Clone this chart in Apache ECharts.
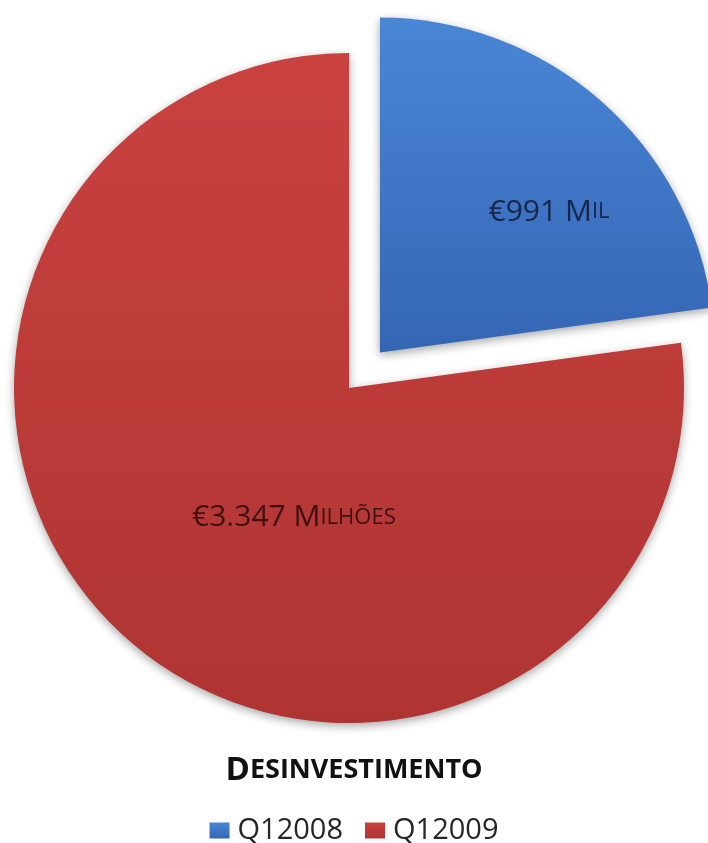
<!DOCTYPE html>
<html>
<head>
<meta charset="utf-8">
<script src="https://cdn.jsdelivr.net/npm/echarts@6/dist/echarts.min.js"></script>
<style>
html,body{margin:0;padding:0;background:#fff;}
#main{width:708px;height:843px;}
</style>
</head>
<body>
<div id="main"></div>
<script>
var categories = ['Q12008', 'Q12009'];
var values = [991, 3347];
var labelMain = ['€991 M', '€3.347 M'];
var labelSmall = ['IL', 'ILHÕES'];
var titleFirst = 'D';
var titleRest = 'ESINVESTIMENTO';

var colors = [
  {type:'linear', x:0, y:0, x2:0, y2:1, colorStops:[{offset:0,color:'#4a86d6'},{offset:1,color:'#3466b4'}]},
  {type:'linear', x:0, y:0, x2:0, y2:1, colorStops:[{offset:0,color:'#c94240'},{offset:1,color:'#ae3432'}]}
];
var labelColors = ['#17264a', '#3f1010'];
var labelShift = [[57, -12], [57, 1]];

var chart = echarts.init(document.getElementById('main'));
var data = categories.map(function(c, i){
  return {
    name: c,
    value: values[i],
    selected: i === 0,
    itemStyle: {color: colors[i]},
    label: {
      formatter: '{a|' + labelMain[i] + '}{b|' + labelSmall[i] + '}',
      rich: {
        a: {fontFamily:'Open Sans', fontWeight:500, fontSize:30, color:labelColors[i]},
        b: {fontFamily:'Open Sans', fontWeight:500, fontSize:22, color:labelColors[i]}
      }
    }
  };
});

chart.setOption({
  animation: false,
  title: {
    text: '{a|' + titleFirst + '}{b|' + titleRest + '}',
    left: 'center',
    top: 749,
    textStyle: {
      rich: {
        a: {fontFamily:'Open Sans', fontWeight:'bold', fontSize:33, color:'#111'},
        b: {fontFamily:'Open Sans', fontWeight:'bold', fontSize:27, color:'#111'}
      }
    }
  },
  legend: {
    data: categories,
    top: 811,
    left: 'center',
    icon: 'rect',
    itemWidth: 20,
    itemHeight: 16,
    itemGap: 22,
    selectedMode: false,
    textStyle: {fontFamily:'Open Sans', fontSize:29, color:'#262626', padding:[0,0,0,3]}
  },
  series: [{
    type: 'pie',
    center: [349, 388],
    radius: 335,
    startAngle: 90,
    clockwise: true,
    selectedMode: 'single',
    selectedOffset: 47,
    avoidLabelOverlap: false,
    emphasis: {disabled: true},
    itemStyle: {
      shadowBlur: 10,
      shadowColor: 'rgba(0,0,0,0.35)',
      shadowOffsetY: 3
    },
    label: {show: true, position: 'inside'},
    labelLine: {show: false},
    labelLayout: function(p){
      return {dx: labelShift[p.dataIndex][0], dy: labelShift[p.dataIndex][1]};
    },
    data: data
  }]
});
</script>
</body>
</html>
